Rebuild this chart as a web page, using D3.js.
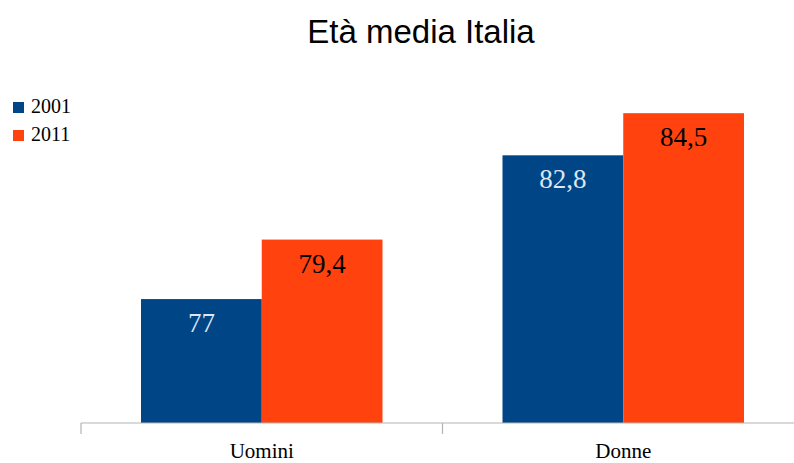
<!DOCTYPE html>
<html>
<head>
<meta charset="utf-8">
<script src="https://cdn.jsdelivr.net/npm/d3@7"></script>
<style>
  html, body { margin: 0; padding: 0; background: #fff; }
  svg { display: block; }
</style>
</head>
<body>
<svg id="chart" width="794" height="463"></svg>
<script>
// Average age in Italy, by sex, census years 2001 and 2011
const categories = ["Uomini", "Donne"];
const seriesNames = ["2001", "2011"];
const values2001 = [77, 82.8];
const values2011 = [79.4, 84.5];
const yDomain = [72, 86];

const colors = { "2001": "#004586", "2011": "#ff420e" };
const labelColors = { "2001": "#dde6f2", "2011": "#000000" };
const seriesValues = { "2001": values2001, "2011": values2011 };

const svg = d3.select("#chart");
const serif = "'Liberation Serif', 'Times New Roman', serif";

// Plot area
const plotLeft = 81, plotRight = 804, baseline = 423, plotTop = 76;

const x0 = d3.scaleBand().domain(categories).range([plotLeft, plotRight]).paddingInner(0).paddingOuter(0);
const groupInset = 60;
const x1 = d3.scaleBand().domain(seriesNames)
  .range([0, x0.bandwidth() - 2 * groupInset]).padding(0);
const y = d3.scaleLinear().domain(yDomain).range([baseline, plotTop]);

// Title
svg.append("text")
  .attr("x", 421).attr("y", 43)
  .attr("text-anchor", "middle")
  .attr("font-family", "'Liberation Sans', Arial, sans-serif")
  .attr("font-size", 33)
  .attr("fill", "#000")
  .text("Età media Italia");

// Bars
const rows = [];
categories.forEach((c, i) => {
  seriesNames.forEach(s => rows.push({ cat: c, series: s, value: seriesValues[s][i] }));
});

const bars = svg.append("g");
bars.selectAll("rect").data(rows).join("rect")
  .attr("x", d => x0(d.cat) + groupInset + x1(d.series))
  .attr("y", d => y(d.value))
  .attr("width", x1.bandwidth())
  .attr("height", d => baseline - y(d.value))
  .attr("fill", d => colors[d.series]);

// Value labels inside bar tops
const fmt = v => String(v).replace(".", ",");
bars.selectAll("text").data(rows).join("text")
  .attr("x", d => x0(d.cat) + groupInset + x1(d.series) + x1.bandwidth() / 2)
  .attr("y", d => y(d.value) + 33)
  .attr("text-anchor", "middle")
  .attr("font-family", serif)
  .attr("font-size", 27)
  .attr("fill", d => labelColors[d.series])
  .text(d => fmt(d.value));

// Category axis
const axis = d3.axisBottom(x0).tickSize(0).tickPadding(0);
const gx = svg.append("g").attr("transform", `translate(0,${baseline})`).call(axis);
gx.select(".domain").attr("stroke", "#b3b3b3").attr("stroke-width", 1.2)
  .attr("d", `M${plotLeft},0H${plotRight}`);
gx.selectAll(".tick text")
  .attr("y", 35)
  .attr("dy", 0)
  .attr("font-family", serif)
  .attr("font-size", 21)
  .attr("fill", "#000");

// Tick marks at category boundaries
const boundaries = [plotLeft, ...categories.map(c => x0(c) + x0.bandwidth())];
gx.selectAll("line.bound").data(boundaries).join("line")
  .attr("class", "bound")
  .attr("x1", d => d).attr("x2", d => d)
  .attr("y1", 0).attr("y2", 11)
  .attr("stroke", "#b3b3b3").attr("stroke-width", 1.2);

// Legend
const legend = svg.append("g");
seriesNames.forEach((s, i) => {
  const gy = 102 + i * 28;
  legend.append("rect")
    .attr("x", 13).attr("y", gy).attr("width", 11).attr("height", 11)
    .attr("fill", colors[s]);
  legend.append("text")
    .attr("x", 31).attr("y", gy + 11)
    .attr("font-family", serif)
    .attr("font-size", 20)
    .attr("fill", "#000")
    .text(s);
});
</script>
</body>
</html>
